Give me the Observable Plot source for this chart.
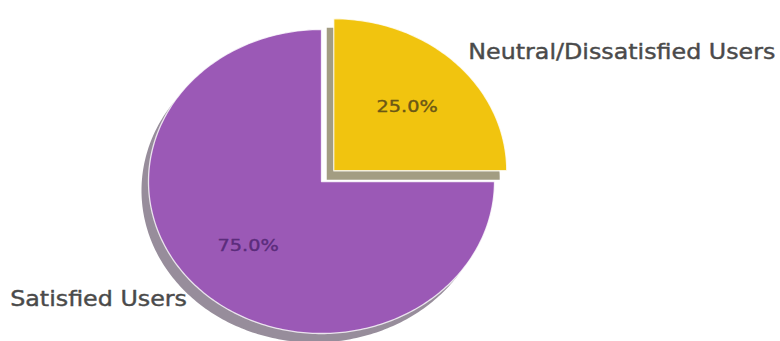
<!DOCTYPE html>
<html>
<head>
<meta charset="utf-8">
<script src="https://cdn.jsdelivr.net/npm/d3@7"></script>
<script src="https://cdn.jsdelivr.net/npm/@observablehq/plot@0.6"></script>
<style>
  html, body { margin: 0; padding: 0; background: #ffffff; }
  #chart { width: 780px; height: 341px; overflow: hidden; }
</style>
</head>
<body>
<div id="chart"></div>
<script>
// ---- data ----
const categories = ["Neutral/Dissatisfied Users", "Satisfied Users"];
const shares = [25, 75];
const sliceColors = ["#f1c40f", "#9b59b6"];
const pctColors = ["#6b5716", "#5b2c7c"];
const explode = [0.1, 0];

// ---- layout (pixels) ----
const W = 780, H = 341;
const cx = 321, cy = 181, rx = 173, ry = 152;
const textStretch = 1.16;

// pie angles (clockwise from 12 o'clock, first slice at top)
const arcs = d3.pie().sort(null).startAngle(0).endAngle(2 * Math.PI)(shares);

const slices = arcs.map((a, i) => {
  const mid = (a.startAngle + a.endAngle) / 2;
  const ox = explode[i] * Math.sin(mid), oy = explode[i] * Math.cos(mid);
  const n = Math.max(8, Math.round((a.endAngle - a.startAngle) / (2 * Math.PI) * 360));
  const pts = [{x: ox, y: oy}];
  for (let k = 0; k <= n; k++) {
    const t = a.startAngle + (a.endAngle - a.startAngle) * k / n;
    pts.push({x: ox + Math.sin(t), y: oy + Math.cos(t)});
  }
  return {
    name: categories[i],
    color: sliceColors[i],
    shadow: (() => { const c = d3.rgb(sliceColors[i]); return d3.rgb(c.r * 0.3, c.g * 0.3, c.b * 0.3).formatHex(); })(),
    pts,
    label: {x: ox + 1.1 * Math.sin(mid), y: oy + 1.1 * Math.cos(mid), text: categories[i],
            anchor: Math.sin(mid) >= 0 ? "start" : "end"},
    pct: {x: ox + 0.6 * Math.sin(mid), y: oy + 0.6 * Math.cos(mid),
          text: (shares[i] / d3.sum(shares) * 100).toFixed(1) + "%", color: pctColors[i]}
  };
});

const marks = [];
// shadows
slices.forEach(s => marks.push(Plot.line(s.pts, {
  x: "x", y: "y", curve: "linear-closed", fill: s.shadow, fillOpacity: 0.5,
  stroke: "none", dx: -7, dy: 9
})));
// wedges
slices.forEach(s => marks.push(Plot.line(s.pts, {
  x: "x", y: "y", curve: "linear-closed", fill: s.color,
  stroke: "#ffffff", strokeWidth: 1.3, strokeOpacity: 0.8
})));
// category labels
slices.forEach(s => marks.push(Plot.text([s.label], {
  x: "x", y: "y", text: "text", textAnchor: s.label.anchor,
  fill: "#4a4a4a", stroke: "#4a4a4a", strokeWidth: 0.4,
  fontSize: 20.5, fontFamily: "DejaVu Sans"
})));
// percentage labels
slices.forEach(s => marks.push(Plot.text([s.pct], {
  x: "x", y: "y", text: "text", textAnchor: "middle",
  fill: s.pct.color, stroke: s.pct.color, strokeWidth: 0.4,
  fontSize: 16.6, fontFamily: "DejaVu Sans"
})));

const chart = Plot.plot({
  width: W, height: H, margin: 0,
  x: {domain: [-cx / rx, (W - cx) / rx], axis: null},
  y: {domain: [-(H - cy) / ry, cy / ry], axis: null},
  style: {background: "#ffffff", overflow: "visible"},
  marks
});

// widen the text horizontally, as in the (horizontally stretched) reference
chart.querySelectorAll("text").forEach(t => {
  const tr = t.getAttribute("transform") || "";
  const m = tr.match(/translate\(\s*([-\d.e]+)/);
  const ax = (m ? parseFloat(m[1]) : 0) + (parseFloat(t.getAttribute("x")) || 0);
  t.setAttribute("transform", `translate(${ax},0) scale(${textStretch},1) translate(${-ax},0) ${tr}`);
});

document.getElementById("chart").appendChild(chart);
</script>
</body>
</html>
